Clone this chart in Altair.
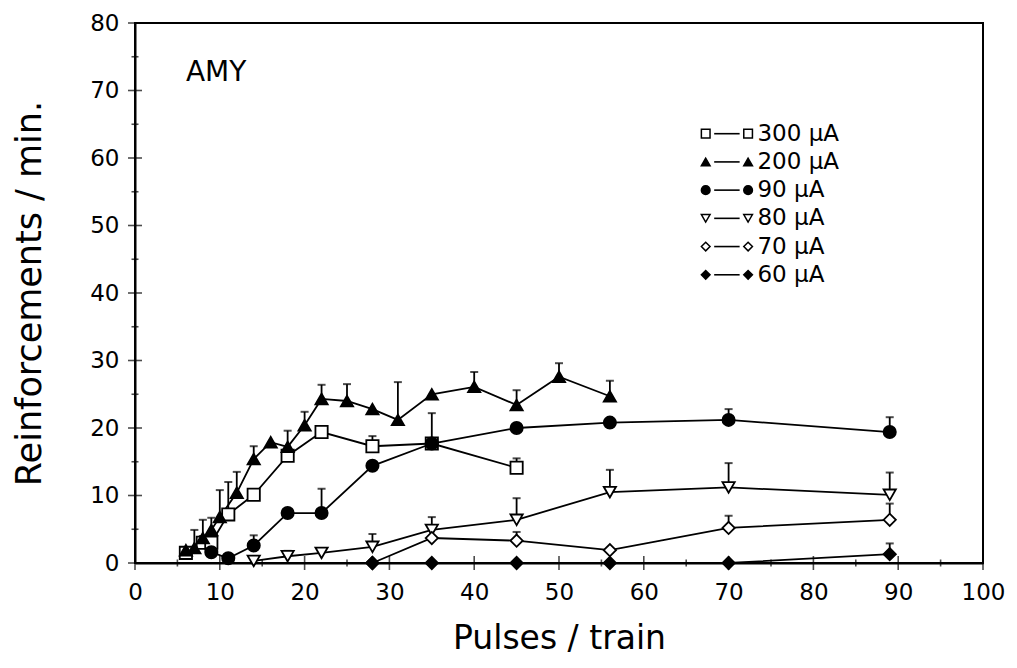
import altair as alt
import pandas as pd

FONT = "DejaVu Sans"

series_names = ["300 µA", "200 µA", "90 µA", "80 µA", "70 µA", "60 µA"]
series_shapes = ["square", "triangle-up", "circle", "triangle-down", "diamond", "diamond"]
series_fills = ["white", "black", "black", "white", "white", "black"]
series_sizes = [150, 150, 140, 120, 80, 100]

# 300 uA
x_300 = [6, 8, 9, 11, 14, 18, 22, 28, 35, 45]
y_300 = [1.5, 3.0, 3.0, 7.2, 10.1, 15.9, 19.4, 17.3, 17.7, 14.1]
t_300 = [None, 4.0, 4.5, 12.0, None, 16.5, 20.0, 18.8, 22.2, 15.5]

# 200 uA
x_200 = [6, 7, 8, 9, 10, 12, 14, 16, 18, 20, 22, 25, 28, 31, 35, 40, 45, 50, 56]
y_200 = [1.9, 2.2, 3.7, 4.9, 6.8, 10.4, 15.4, 17.9, 17.2, 20.4, 24.3, 24.0, 22.8, 21.2, 25.0, 26.1, 23.4, 27.6, 24.7]
t_200 = [None, 4.9, 6.4, 6.7, 10.8, 13.5, 17.3, None, 19.6, 22.4, 26.4, 26.5, None, 26.8, None, 28.3, 25.6, 29.6, 27.0]

# 90 uA
x_90 = [9, 11, 14, 18, 22, 28, 35, 45, 56, 70, 89]
y_90 = [1.6, 0.7, 2.6, 7.4, 7.4, 14.4, 17.7, 20.0, 20.8, 21.2, 19.4]
t_90 = [None, None, 4.1, None, 11.0, None, None, None, None, 22.8, 21.6]

# 80 uA
x_80 = [14, 18, 22, 28, 35, 45, 56, 70, 89]
y_80 = [0.3, 1.0, 1.5, 2.4, 4.9, 6.4, 10.5, 11.2, 10.1]
t_80 = [None, 1.8, None, 4.3, 6.8, 9.6, 13.8, 14.8, 13.4]

# 70 uA
x_70 = [28, 35, 45, 56, 70, 89]
y_70 = [0.0, 3.7, 3.3, 1.9, 5.2, 6.4]
t_70 = [None, None, 4.6, None, 7.0, 8.8]

# 60 uA
x_60 = [28, 35, 45, 56, 70, 89]
y_60 = [0.0, 0.0, 0.0, 0.0, 0.0, 1.3]
t_60 = [None, None, None, None, None, 2.9]

x_ticks = list(range(0, 101, 10))
x_minor = list(range(5, 100, 10))
y_ticks = list(range(0, 81, 10))
y_minor = list(range(5, 80, 10))

rows = []
for name, xs_, ys_, ts_ in zip(
    series_names,
    [x_300, x_200, x_90, x_80, x_70, x_60],
    [y_300, y_200, y_90, y_80, y_70, y_60],
    [t_300, t_200, t_90, t_80, t_70, t_60],
):
    for i, (xv, yv, tv) in enumerate(zip(xs_, ys_, ts_)):
        rows.append({"series": name, "x": xv, "y": yv, "top": tv, "i": i})
df = pd.DataFrame(rows)
err_df = df.dropna(subset=["top"])

leg_df = pd.DataFrame({"series": series_names, "idx": list(range(len(series_names)))})

xs = alt.Scale(domain=[0, 100], nice=False, zero=False)
ys = alt.Scale(domain=[0, 80], nice=False, zero=False)

shape_scale = alt.Scale(domain=series_names, range=series_shapes)
fill_scale = alt.Scale(domain=series_names, range=series_fills)
size_scale = alt.Scale(domain=series_names, range=series_sizes)

X = alt.X("x:Q", scale=xs, axis=alt.Axis(
    values=x_ticks, ticks=False, grid=False, labelPadding=18, labelFontSize=23,
    title="Pulses / train", titleFontSize=33, titleFontWeight="normal",
    titleY=85, titleBaseline="alphabetic", domainWidth=2, labelFlush=False))
Y = alt.Y("y:Q", scale=ys, axis=alt.Axis(
    values=y_ticks, ticks=False, grid=False, labelPadding=16, labelFontSize=23,
    title="Reinforcements / min.", titleFontSize=35, titleFontWeight="normal",
    titleX=-106, titleY=270, titleAngle=270, titleAlign="center", titleBaseline="middle",
    domainWidth=2, labelFlush=False))

lines = alt.Chart(df).mark_line(color="black", strokeWidth=1.8).encode(
    x=X, y=Y, detail="series:N", order="i:Q")

bars = alt.Chart(err_df).mark_rule(color="black", strokeWidth=1.8).encode(
    x=alt.X("x:Q", scale=xs), y=alt.Y("y:Q", scale=ys), y2="top:Q")
caps = alt.Chart(err_df).mark_tick(color="black", orient="horizontal", size=8, thickness=2).encode(
    x=alt.X("x:Q", scale=xs), y=alt.Y("top:Q", scale=ys))

points = alt.Chart(df).mark_point(filled=True, stroke="black", strokeWidth=1.8, opacity=1).encode(
    x=alt.X("x:Q", scale=xs), y=alt.Y("y:Q", scale=ys),
    shape=alt.Shape("series:N", scale=shape_scale, legend=None),
    fill=alt.Fill("series:N", scale=fill_scale, legend=None),
    size=alt.Size("series:N", scale=size_scale, legend=None),
)

xt_major = alt.Chart(pd.DataFrame({"x": x_ticks})).mark_tick(
    color="black", orient="vertical", size=14, thickness=1.6).encode(
    x=alt.X("x:Q", scale=xs), y=alt.datum(0))
xt_minor = alt.Chart(pd.DataFrame({"x": x_minor})).mark_tick(
    color="black", orient="vertical", size=7, thickness=1.6).encode(
    x=alt.X("x:Q", scale=xs), y=alt.datum(0))
yt_major = alt.Chart(pd.DataFrame({"y": y_ticks})).mark_tick(
    color="black", orient="horizontal", size=14, thickness=1.6).encode(
    y=alt.Y("y:Q", scale=ys), x=alt.datum(0))
yt_minor = alt.Chart(pd.DataFrame({"y": y_minor})).mark_tick(
    color="black", orient="horizontal", size=7, thickness=1.6).encode(
    y=alt.Y("y:Q", scale=ys), x=alt.datum(0))

leg_base = alt.Chart(leg_df).transform_calculate(
    ly="63.6 - datum.idx * 4.18", lx1="67.3", lx2="72.3", la="68.3", lb="71.3", lt="73.4")
leg_line = leg_base.mark_rule(color="black", strokeWidth=1.6).encode(
    x=alt.X("la:Q", scale=xs), x2="lb:Q", y=alt.Y("ly:Q", scale=ys))
leg_pt1 = leg_base.mark_point(filled=True, stroke="black", strokeWidth=1.5, opacity=1, size=75).encode(
    x=alt.X("lx1:Q", scale=xs), y=alt.Y("ly:Q", scale=ys),
    shape=alt.Shape("series:N", scale=shape_scale, legend=None),
    fill=alt.Fill("series:N", scale=fill_scale, legend=None))
leg_pt2 = leg_base.mark_point(filled=True, stroke="black", strokeWidth=1.5, opacity=1, size=75).encode(
    x=alt.X("lx2:Q", scale=xs), y=alt.Y("ly:Q", scale=ys),
    shape=alt.Shape("series:N", scale=shape_scale, legend=None),
    fill=alt.Fill("series:N", scale=fill_scale, legend=None))
leg_txt = leg_base.mark_text(align="left", baseline="middle", fontSize=23, font=FONT, color="black").encode(
    x=alt.X("lt:Q", scale=xs), y=alt.Y("ly:Q", scale=ys), text="series:N")

label_df = pd.DataFrame({"label": ["AMY"], "lx": [6.0], "ly": [71.4]})
amy = alt.Chart(label_df).mark_text(align="left", baseline="alphabetic", fontSize=28, font=FONT, color="black").encode(
    x=alt.X("lx:Q", scale=xs), y=alt.Y("ly:Q", scale=ys), text="label:N")

chart = alt.layer(
    lines, bars, caps, xt_major, xt_minor, yt_major, yt_minor, points,
    leg_line, leg_pt1, leg_pt2, leg_txt, amy
).properties(
    width=848, height=540,
    autosize=alt.AutoSizeParams(type="none"),
    padding={"left": 127, "top": 15, "right": 26, "bottom": 97},
    background="white",
).configure_view(
    stroke="black", strokeWidth=2
).configure_axis(
    labelFont=FONT, titleFont=FONT, labelColor="black", titleColor="black",
    domainColor="black"
)

chart.save("out.html", embed_options={"renderer": "svg", "actions": False})
